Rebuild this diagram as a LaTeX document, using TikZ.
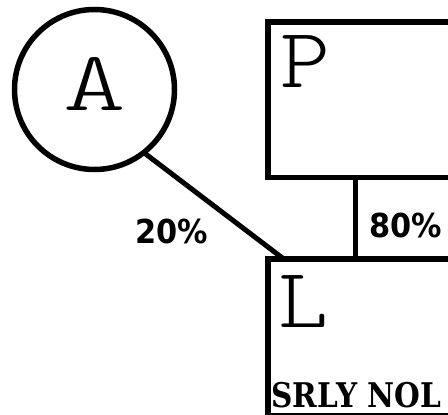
\documentclass[tikz,border=0pt]{standalone}
\usepackage{fontspec}
\newfontfamily\pctfont{DejaVu Sans}[FakeStretch=0.92]
\newfontfamily\srlyfont{DejaVu Serif}[FakeStretch=0.87]
\newfontfamily\lettwide{lmmonolt10-regular.otf}[FakeStretch=1.4]
\newfontfamily\lettfont{lmmonolt10-regular.otf}[FakeStretch=1.12]
\tikzset{
  ent/.style={draw=black, line width=5.5pt, outer sep=0pt, inner sep=0pt},
  conn/.style={draw=black, line width=5pt},
  bigletter/.style={inner sep=0pt, anchor=base, font=\lettfont\fontsize{85}{85}\selectfont},
  bigwide/.style={inner sep=0pt, anchor=base, font=\lettwide\fontsize{85}{85}\selectfont},
  pct/.style={inner sep=0pt, anchor=base west, font=\pctfont\bfseries\fontsize{33}{33}\selectfont},
  tag/.style={inner sep=0pt, anchor=base west, font=\srlyfont\bfseries\fontsize{34}{34}\selectfont},
}
\begin{document}
\begin{tikzpicture}[x=1pt, y=-1pt]
\useasboundingbox (0,0) rectangle (448,415);
\clip (0,0) rectangle (448,415);
\fill[white] (0,0) rectangle (448,415);
% entities
\node[ent, circle, minimum size=160pt] (A) at (94.5,89.5) {};
\node[ent, rectangle, anchor=north west, minimum width=202pt, minimum height=155.5pt] (boxP) at (267.75,22) {};
\node[ent, rectangle, anchor=north west, minimum width=202pt, minimum height=156.5pt] (boxL) at (267.75,259) {};
% letters
\node[bigwide] (labA) at (94.5,110) {A};
\node[bigletter] (labP) at (305,87) {P};
\node[bigletter] (labL) at (303,327) {L};
\node[tag] (srly) at (271,407) {SRLY NOL};
% connectors
\coordinate (dEnd) at ([xshift=16pt]boxL.north west);
\draw[conn] (A.-52) -- (dEnd);
\coordinate (vTop) at ([xshift=87.75pt]boxP.south west);
\draw[conn] (vTop) -- (vTop |- boxL.north);
% labels
\node[pct] (p20) at (135,243) {20\%};
\node[pct] (p80) at (369,237) {80\%};
\end{tikzpicture}
\end{document}
